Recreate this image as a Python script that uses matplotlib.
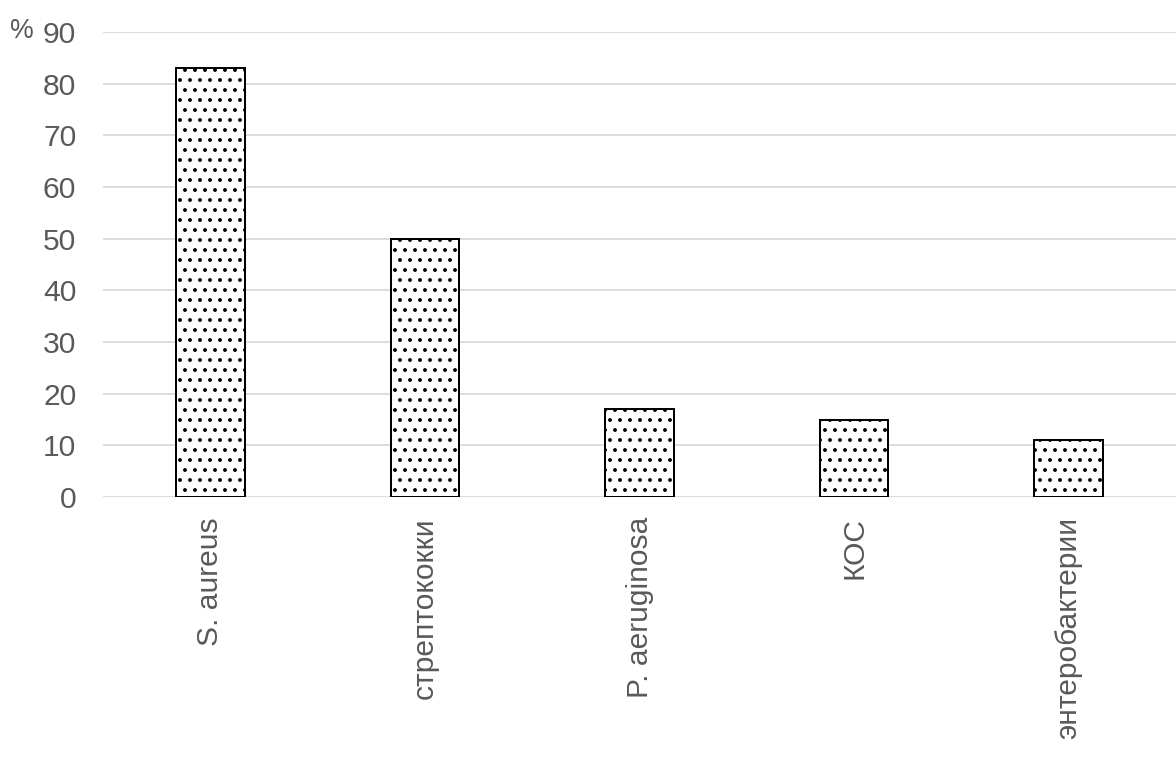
import matplotlib
matplotlib.use('Agg')
import matplotlib.pyplot as plt

categories = ['S. aureus', 'стрептококки', 'P. aeruginosa', 'КОС', 'энтеробактерии']
values = [83, 50, 17, 15, 11]
yticks = [0, 10, 20, 30, 40, 50, 60, 70, 80, 90]

plt.rcParams['font.family'] = ['Liberation Sans', 'DejaVu Sans']
plt.rcParams['hatch.linewidth'] = 1.1
plt.rcParams['hatch.color'] = 'black'

# dpi 120 so the dot hatch spacing comes out near 10 px
DPI = 120
fig = plt.figure(figsize=(1176 / DPI, 769 / DPI), dpi=DPI)
ax = fig.add_axes([0.0876, 0.3537, 0.9124, 0.6047])

x = range(len(categories))
ax.bar(x, values, width=0.32, color='white', edgecolor='black', linewidth=1.2,
       hatch='..', zorder=3)

ax.set_xlim(-0.5, len(categories) - 0.5)
ax.set_ylim(0, 90)
ax.set_yticks(yticks)
ax.set_xticks(list(x))
ax.set_xticklabels(categories, rotation=90, fontsize=18, color='#595959')
ax.tick_params(axis='y', labelsize=18, labelcolor='#595959', length=0, pad=16)
ax.tick_params(axis='x', length=0, pad=12)
ax.yaxis.grid(True, color='#d9d9d9', linewidth=1.1, zorder=0)
ax.set_axisbelow(True)
for s in ax.spines.values():
    s.set_visible(False)

ax.text(-0.065, 1.003, '%', transform=ax.transAxes, fontsize=16, color='#595959',
        ha='right', va='center')

fig.savefig('out.png', dpi=DPI)
